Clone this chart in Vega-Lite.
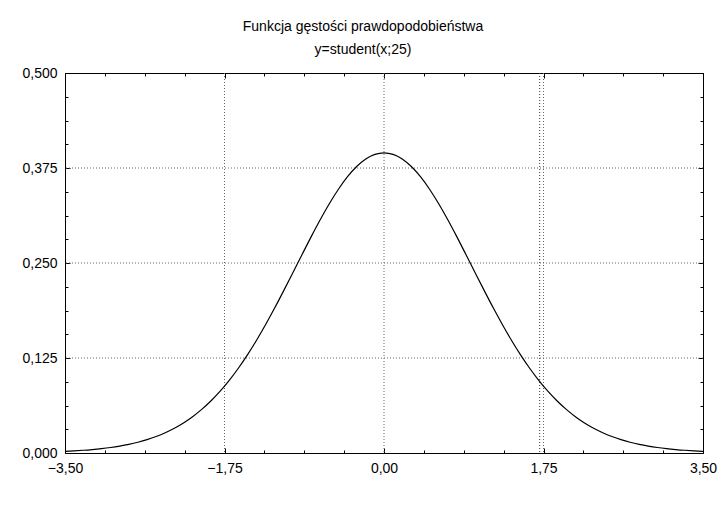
{
  "$schema": "https://vega.github.io/schema/vega-lite/v6.json",
  "autosize": {"type": "none"},
  "padding": {"left": 65, "top": 73, "right": 22, "bottom": 61},
  "width": 638,
  "height": 380,
  "background": "white",
  "title": {
    "text": ["Funkcja gęstości prawdopodobieństwa", "y=student(x;25)"],
    "font": "Liberation Sans",
    "fontSize": 14,
    "fontWeight": "normal",
    "color": "black",
    "lineHeight": 23,
    "anchor": "middle",
    "dx": -21,
    "offset": 9
  },
  "config": {
    "view": {"stroke": "black", "strokeWidth": 1},
    "axis": {
      "domain": false,
      "labelFont": "Liberation Sans",
      "labelFontSize": 14,
      "labelColor": "black",
      "tickColor": "black",
      "title": null
    }
  },
  "datasets": {
    "curve": [
      {"x": -3.5, "y": 0.00221}, {"x": -3.4, "y": 0.00282}, {"x": -3.3, "y": 0.00359}, {"x": -3.2, "y": 0.00456},
      {"x": -3.1, "y": 0.00576}, {"x": -3.0, "y": 0.00725}, {"x": -2.9, "y": 0.00911}, {"x": -2.8, "y": 0.01139},
      {"x": -2.7, "y": 0.01419}, {"x": -2.6, "y": 0.01759}, {"x": -2.5, "y": 0.02171}, {"x": -2.4, "y": 0.02666},
      {"x": -2.3, "y": 0.03253}, {"x": -2.2, "y": 0.03954}, {"x": -2.1, "y": 0.04777}, {"x": -2.0, "y": 0.05736},
      {"x": -1.9, "y": 0.06839}, {"x": -1.8, "y": 0.08101}, {"x": -1.7, "y": 0.09526}, {"x": -1.6, "y": 0.11121},
      {"x": -1.5, "y": 0.12883}, {"x": -1.4, "y": 0.14805}, {"x": -1.3, "y": 0.16876}, {"x": -1.2, "y": 0.19072},
      {"x": -1.1, "y": 0.21366}, {"x": -1.0, "y": 0.23721}, {"x": -0.9, "y": 0.26094}, {"x": -0.8, "y": 0.28435},
      {"x": -0.7, "y": 0.30688}, {"x": -0.6, "y": 0.32797}, {"x": -0.5, "y": 0.34705}, {"x": -0.4, "y": 0.36353},
      {"x": -0.3, "y": 0.37694}, {"x": -0.2, "y": 0.38685}, {"x": -0.1, "y": 0.39292}, {"x": 0.0, "y": 0.39497},
      {"x": 0.1, "y": 0.39292}, {"x": 0.2, "y": 0.38685}, {"x": 0.3, "y": 0.37694}, {"x": 0.4, "y": 0.36353},
      {"x": 0.5, "y": 0.34705}, {"x": 0.6, "y": 0.32797}, {"x": 0.7, "y": 0.30688}, {"x": 0.8, "y": 0.28435},
      {"x": 0.9, "y": 0.26094}, {"x": 1.0, "y": 0.23721}, {"x": 1.1, "y": 0.21366}, {"x": 1.2, "y": 0.19072},
      {"x": 1.3, "y": 0.16876}, {"x": 1.4, "y": 0.14805}, {"x": 1.5, "y": 0.12883}, {"x": 1.6, "y": 0.11121},
      {"x": 1.7, "y": 0.09526}, {"x": 1.8, "y": 0.08101}, {"x": 1.9, "y": 0.06839}, {"x": 2.0, "y": 0.05736},
      {"x": 2.1, "y": 0.04777}, {"x": 2.2, "y": 0.03954}, {"x": 2.3, "y": 0.03253}, {"x": 2.4, "y": 0.02666},
      {"x": 2.5, "y": 0.02171}, {"x": 2.6, "y": 0.01759}, {"x": 2.7, "y": 0.01419}, {"x": 2.8, "y": 0.01139},
      {"x": 2.9, "y": 0.00911}, {"x": 3.0, "y": 0.00725}, {"x": 3.1, "y": 0.00576}, {"x": 3.2, "y": 0.00456},
      {"x": 3.3, "y": 0.00359}, {"x": 3.4, "y": 0.00282}, {"x": 3.5, "y": 0.00221}
    ],
    "vgrid": [{"x": -1.75}, {"x": 0}, {"x": 1.75}],
    "hgrid": [{"y": 0.125}, {"y": 0.25}, {"y": 0.375}],
    "crit": [{"x": 1.708}]
  },
  "layer": [
    {
      "data": {"name": "vgrid"},
      "mark": {"type": "rule", "color": "#666666", "strokeDash": [1, 2], "strokeWidth": 1},
      "encoding": {
        "x": {
          "field": "x", "type": "quantitative",
          "scale": {"domain": [-3.5, 3.5], "nice": false, "zero": false},
          "axis": {
            "orient": "top", "labels": false, "grid": false,
            "values": [-3.5, -3.0625, -2.625, -2.1875, -1.75, -1.3125, -0.875, -0.4375, 0, 0.4375, 0.875, 1.3125, 1.75, 2.1875, 2.625, 3.0625, 3.5],
            "tickSize": {"condition": {"test": "abs(datum.value/1.75 - round(datum.value/1.75)) < 0.001", "value": -5}, "value": -3}
          }
        }
      }
    },
    {
      "data": {"name": "hgrid"},
      "mark": {"type": "rule", "color": "#666666", "strokeDash": [1, 2], "strokeWidth": 1},
      "encoding": {
        "y": {
          "field": "y", "type": "quantitative",
          "scale": {"domain": [0, 0.5], "nice": false, "zero": false},
          "axis": {
            "orient": "right", "labels": false, "grid": false,
            "values": [0, 0.03125, 0.0625, 0.09375, 0.125, 0.15625, 0.1875, 0.21875, 0.25, 0.28125, 0.3125, 0.34375, 0.375, 0.40625, 0.4375, 0.46875, 0.5],
            "tickSize": {"condition": {"test": "abs(datum.value/0.125 - round(datum.value/0.125)) < 0.001", "value": -5}, "value": -3}
          }
        }
      }
    },
    {
      "data": {"name": "crit"},
      "mark": {"type": "rule", "color": "#333333", "strokeDash": [1, 2], "strokeWidth": 1},
      "encoding": {
        "x": {"field": "x", "type": "quantitative", "axis": null}
      }
    },
    {
      "data": {"name": "curve"},
      "mark": {"type": "line", "color": "black", "strokeWidth": 1.2, "interpolate": "monotone"},
      "encoding": {
        "x": {
          "field": "x", "type": "quantitative",
          "axis": {
            "orient": "bottom", "grid": false,
            "values": [-3.5, -3.0625, -2.625, -2.1875, -1.75, -1.3125, -0.875, -0.4375, 0, 0.4375, 0.875, 1.3125, 1.75, 2.1875, 2.625, 3.0625, 3.5],
            "labelExpr": "abs(datum.value/1.75 - round(datum.value/1.75)) < 0.001 ? replace(format(datum.value, '.2f'), '.', ',') : ''",
            "tickSize": {"condition": {"test": "abs(datum.value/1.75 - round(datum.value/1.75)) < 0.001", "value": -5}, "value": -3},
            "labelPadding": {"condition": {"test": "abs(datum.value/1.75 - round(datum.value/1.75)) < 0.001", "value": 13}, "value": 11},
            "labelFlush": false,
            "labelOverlap": false
          }
        },
        "y": {
          "field": "y", "type": "quantitative",
          "axis": {
            "orient": "left", "grid": false,
            "values": [0, 0.03125, 0.0625, 0.09375, 0.125, 0.15625, 0.1875, 0.21875, 0.25, 0.28125, 0.3125, 0.34375, 0.375, 0.40625, 0.4375, 0.46875, 0.5],
            "labelExpr": "abs(datum.value/0.125 - round(datum.value/0.125)) < 0.001 ? replace(format(datum.value, '.3f'), '.', ',') : ''",
            "tickSize": {"condition": {"test": "abs(datum.value/0.125 - round(datum.value/0.125)) < 0.001", "value": -5}, "value": -3},
            "labelPadding": {"condition": {"test": "abs(datum.value/0.125 - round(datum.value/0.125)) < 0.001", "value": 13}, "value": 11},
            "labelFlush": false,
            "labelOverlap": false
          }
        }
      }
    }
  ],
  "resolve": {"axis": {"x": "independent", "y": "independent"}}
}
